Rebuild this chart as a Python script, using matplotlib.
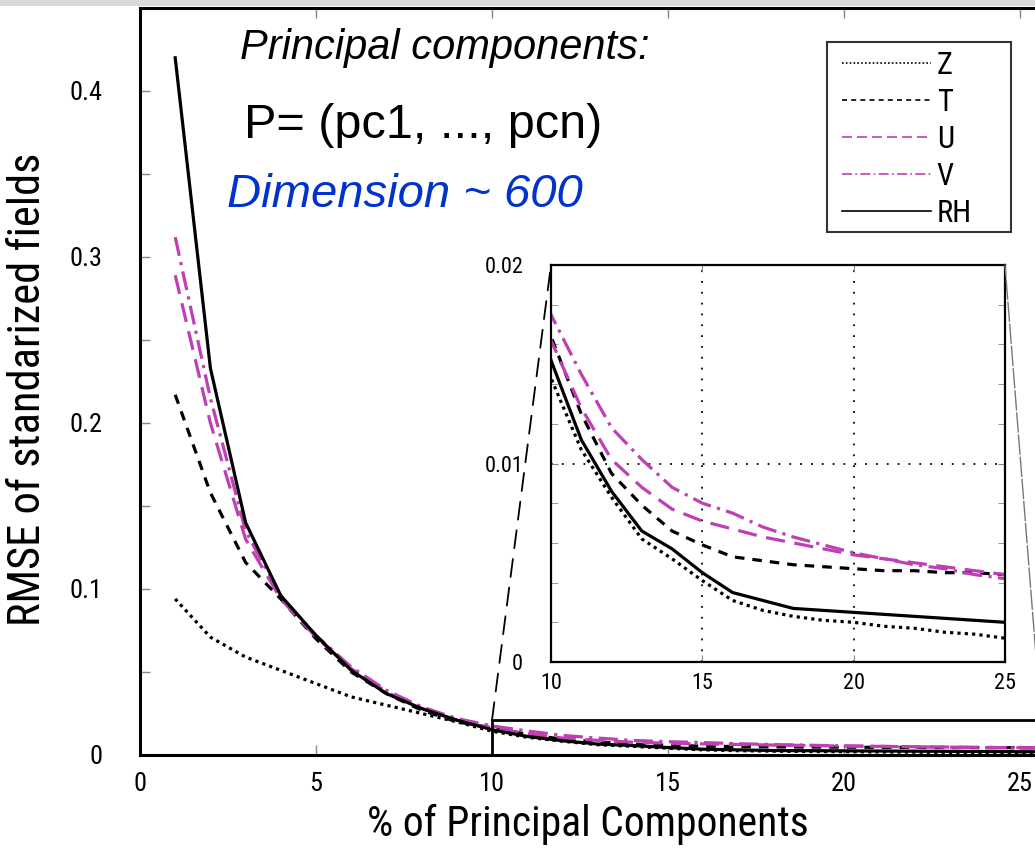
import matplotlib
matplotlib.use("Agg")
import matplotlib.pyplot as plt
from matplotlib.patches import Rectangle, ConnectionPatch
from matplotlib.ticker import MultipleLocator

# % of principal components retained
pcs = [1, 2, 3, 4, 5, 6, 7, 8, 9, 10, 11, 12, 13, 14, 15, 16, 17, 18, 19, 20,
       21, 22, 23, 24, 25, 26]

# RMSE of standardized fields, one list per variable
rmse_z = [0.094, 0.071, 0.059, 0.051, 0.043, 0.035, 0.030, 0.025, 0.020, 0.0143,
          0.0107, 0.0083, 0.0062, 0.0052, 0.0041, 0.0031, 0.0026, 0.0023, 0.0021, 0.0020,
          0.0018, 0.0017, 0.0015, 0.0014, 0.0012, 0.0011]
rmse_t = [0.217, 0.158, 0.116, 0.094, 0.070, 0.050, 0.037, 0.027, 0.020, 0.0164,
          0.0125, 0.0095, 0.0079, 0.0066, 0.0059, 0.0053, 0.0051, 0.0049, 0.0048, 0.0047,
          0.0046, 0.0046, 0.0045, 0.0045, 0.0044, 0.0044]
rmse_u = [0.289, 0.200, 0.130, 0.094, 0.071, 0.052, 0.038, 0.028, 0.021, 0.0162,
          0.0128, 0.0102, 0.0088, 0.0077, 0.0071, 0.0067, 0.0063, 0.0060, 0.0057, 0.0054,
          0.0052, 0.0050, 0.0048, 0.0046, 0.0044, 0.0043]
rmse_v = [0.312, 0.215, 0.135, 0.096, 0.072, 0.053, 0.039, 0.029, 0.022, 0.0175,
          0.0145, 0.0118, 0.0102, 0.0088, 0.0080, 0.0075, 0.0068, 0.0063, 0.0059, 0.0055,
          0.0052, 0.0049, 0.0047, 0.0044, 0.0042, 0.0040]
rmse_rh = [0.420, 0.233, 0.140, 0.096, 0.072, 0.051, 0.037, 0.028, 0.021, 0.0152,
           0.0112, 0.0086, 0.0066, 0.0057, 0.0045, 0.0035, 0.0031, 0.0027, 0.0026, 0.0025,
           0.0024, 0.0023, 0.0022, 0.0021, 0.0020, 0.0019]

labels = ["Z", "T", "U", "V", "RH"]
main_xticks = [0, 5, 10, 15, 20, 25]
main_yticks = [0, 0.1, 0.2, 0.3, 0.4]
inset_xticks = [10, 15, 20, 25]
inset_yticks = [0, 0.01, 0.02]

MAGENTA = "#bf3fb4"
NARROW = ["Roboto Condensed", "Liberation Sans Narrow", "Roboto", "DejaVu Sans"]
ARIAL = ["Liberation Sans", "DejaVu Sans"]

styles = [
    dict(color="black", linestyle=(0, (1, 1.3))),
    dict(color="black", linestyle=(0, (3, 2.5))),
    dict(color=MAGENTA, linestyle=(0, (6, 3))),
    dict(color=MAGENTA, linestyle=(0, (6, 2, 1, 2))),
    dict(color="black", linestyle="-"),
]
series = [rmse_z, rmse_t, rmse_u, rmse_v, rmse_rh]

W, H = 1035, 851
fig = plt.figure(figsize=(W / 100, H / 100), dpi=100)

# grey strip along the top of the screenshot
fig.patches.append(Rectangle((0, 1 - 6 / H), 1, 6 / H, transform=fig.transFigure,
                             facecolor="#d9d9d9", edgecolor="none", zorder=0))

# ---- main axes ----
ax = fig.add_axes([140 / W, 1 - 755 / H, 895 / W, 747 / H])
lines = []
for vals, st, lab in zip(series, styles, labels):
    ln, = ax.plot(pcs, vals, lw=2.3, label=lab, **st)
    lines.append(ln)

ax.set_xlim(0, 895 / 35.2)
ax.set_ylim(0, 747 / 1660)
ax.set_xticks(main_xticks)
ax.set_xticklabels([str(t) for t in main_xticks])
ax.set_yticks(main_yticks)
ax.set_yticklabels(["0" if t == 0 else f"{t:g}" for t in main_yticks])
ax.yaxis.set_minor_locator(MultipleLocator(0.05))
ax.tick_params(axis="both", which="both", direction="in", colors="#888888",
               labelcolor="black", width=1)
ax.tick_params(axis="x", which="major", top=True, length=7, pad=12, labelsize=19)
ax.tick_params(axis="y", which="major", length=7, pad=27, labelsize=19)
ax.tick_params(axis="y", which="minor", length=7)
for lab in ax.get_xticklabels() + ax.get_yticklabels():
    lab.set_family(NARROW)
ax.spines["right"].set_visible(False)
for s in ["left", "bottom", "top"]:
    ax.spines[s].set_linewidth(2.2)

ax.set_xlabel("% of Principal Components", fontsize=30, family=NARROW)
ax.xaxis.set_label_coords(0.5, -0.066)
ax.set_ylabel("RMSE of standarized fields", fontsize=32, family=NARROW)
ax.yaxis.set_label_coords(-0.102, 0.49)

# zoom box on the main axes
ax.add_patch(Rectangle((10, 0), 15.6, 0.021, fill=False, edgecolor="black", lw=2, zorder=5))

# ---- inset ----
ins = fig.add_axes([551 / W, 1 - 662 / H, 454 / W, 397 / H])
for vals, st in zip(series, styles):
    ins.plot(pcs, vals, lw=2.3, **st)
ins.set_xlim(10, 25)
ins.set_ylim(0, 0.02)
ins.set_xticks(inset_xticks)
ins.set_xticklabels([str(t) for t in inset_xticks])
ins.set_yticks(inset_yticks)
ins.set_yticklabels(["0" if t == 0 else f"{t:g}" for t in inset_yticks])
ins.yaxis.set_minor_locator(MultipleLocator(0.002))
ins.tick_params(axis="both", which="both", direction="in", colors="#888888",
                labelcolor="black", right=True, top=True, length=5)
ins.tick_params(axis="x", pad=8, labelsize=16)
ins.tick_params(axis="y", pad=20, labelsize=16)
for lab in ins.get_xticklabels() + ins.get_yticklabels():
    lab.set_family(NARROW)
ins.grid(True, color="black", linestyle=(0, (1, 5)), lw=1.3)
for s in ins.spines.values():
    s.set_linewidth(1.6)

# connector lines from the zoom box to the inset
con_l = ConnectionPatch(xyA=(10, 0.021), coordsA=ax.transData,
                        xyB=(0, 1), coordsB=ins.transAxes,
                        color="black", lw=1.3, linestyle=(0, (10, 6)))
con_r = ConnectionPatch(xyA=(25.6, 0.021), coordsA=ax.transData,
                        xyB=(1, 1), coordsB=ins.transAxes,
                        color="#777777", lw=1.0, linestyle=(0, (14, 2)))
fig.add_artist(con_l)
fig.add_artist(con_r)

# legend: box drawn separately, gnuplot-style wide key frame
fig.patches.append(Rectangle((827 / W, 1 - 232 / H), 184 / W, 190 / H,
                             transform=fig.transFigure, fill=False,
                             edgecolor="#333333", lw=1.5, zorder=3))
leg = fig.legend(lines, labels, loc="upper left",
                 bbox_to_anchor=(836 / W, 1 - 45 / H),
                 prop={"family": NARROW, "size": 22},
                 frameon=False, handlelength=2.9,
                 handletextpad=0.2, labelspacing=0.26, borderpad=0.2,
                 borderaxespad=0)
for h in leg.get_lines():
    h.set_linewidth(1.2)

# annotations
fig.text(240 / W, 1 - 48 / H, "Principal components:", fontsize=30, style="italic",
         family=ARIAL, va="center", ha="left")
fig.text(244 / W, 1 - 126 / H, "P= (pc1, ..., pcn)", fontsize=35,
         family=ARIAL, va="center", ha="left")
fig.text(227 / W, 1 - 195 / H, "Dimension ~ 600", fontsize=34, style="italic",
         family=ARIAL, color="#0033cc", va="center", ha="left")

fig.savefig("out.png", dpi=100)
